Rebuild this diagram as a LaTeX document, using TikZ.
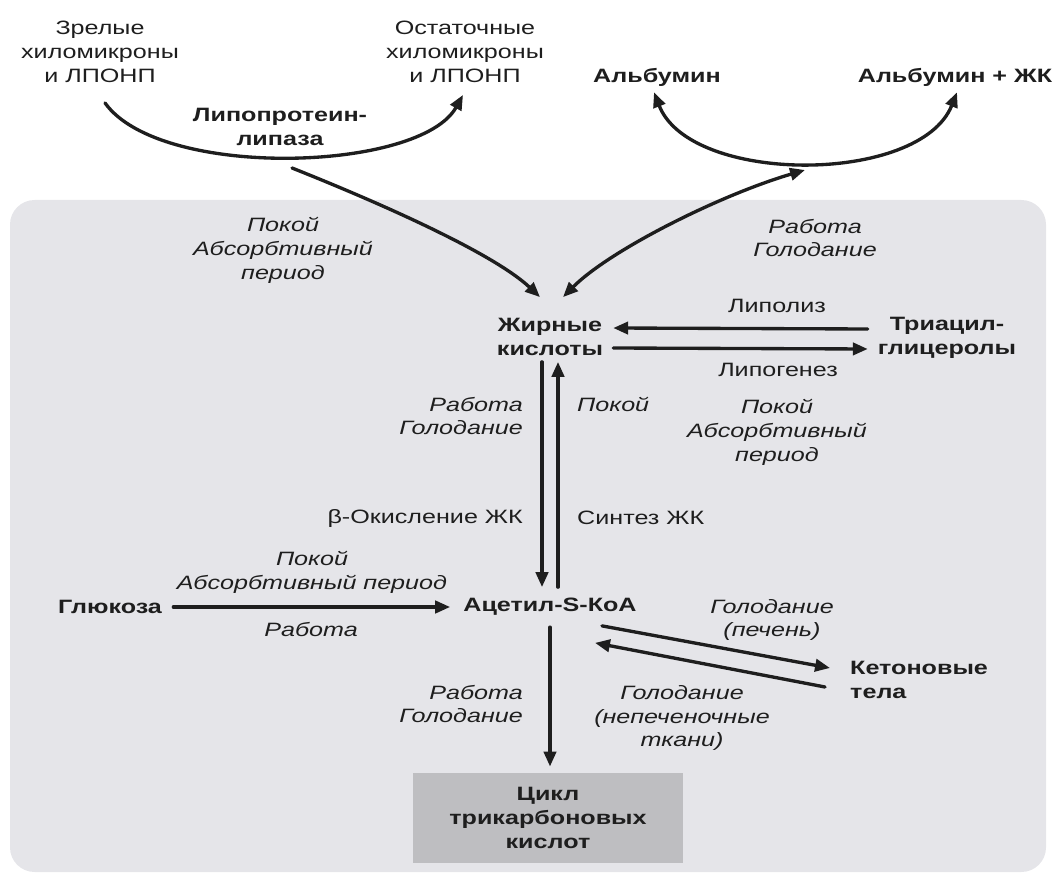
\documentclass[tikz,border=0pt]{standalone}
\usepackage{fontspec}
\setmainfont{Liberation Sans}[FakeStretch=1.3]
\usetikzlibrary{arrows.meta,calc}
\definecolor{panel}{RGB}{229,229,233}
\definecolor{tcagray}{RGB}{190,190,193}
\definecolor{ink}{RGB}{30,30,30}

\begin{document}
\begin{tikzpicture}[x=0.02cm,y=-0.02cm,line cap=round,line join=round,
  plain/.style={font=\fontsize{11}{13.6}\selectfont,text=ink,align=center},
  subst/.style={font=\fontsize{11}{13.6}\selectfont\bfseries,text=ink,align=center},
  cond/.style={font=\fontsize{11}{13.6}\selectfont\itshape,text=ink,align=center},
  arr/.style={draw=ink,line width=1.9pt,-{Triangle[length=8.5pt,width=7pt]}},
  dbl/.style={draw=ink,line width=1.9pt,{Triangle[length=8.5pt,width=7pt]}-{Triangle[length=8.5pt,width=7pt]}}]
  \useasboundingbox (0,0) rectangle (1054,874);
  \fill[panel,rounded corners=14pt] (10,200) rectangle (1046,872);
  % outside the cell
  \node[plain] (zrel) at (100,52) {Зрелые\\хиломикроны\\и ЛПОНП};
  \node[plain] (ost) at (465,52) {Остаточные\\хиломикроны\\и ЛПОНП};
  \node[subst] (lpl) at (280,127) {Липопротеин-\\липаза};
  \node[subst] (alb) at (657,77) {Альбумин};
  \node[subst] (albfa) at (955,77) {Альбумин + ЖК};
  \coordinate (lpout) at (292,168);
  \coordinate (albin) at (805,170);
  % inside the cell
  \node[subst] (fa) at (550,337) {Жирные\\кислоты};
  \node[subst] (tag) at (947,338) {Триацил-\\глицеролы};
  \node[subst] (glc) at (110,607) {Глюкоза};
  \node[subst] (acoa) at (550,607) {Ацетил-S-КоA};
  \node[subst,anchor=west,align=left] (keto) at (844,680) {Кетоновые\\тела};
  \node[subst,fill=tcagray,minimum width=5.4cm,minimum height=1.8cm] (tca) at (548,818) {Цикл\\трикарбоновых\\кислот};
  \node[cond] (restA) at (283,250) {Покой\\Абсорбтивный\\период};
  \node[cond] (workA) at (815,238) {Работа\\Голодание};
  \node[plain] (lipoliz) at (777,306) {Липолиз};
  \node[plain] (lipogen) at (778,370) {Липогенез};
  \node[cond] (restB) at (777,432) {Покой\\Абсорбтивный\\период};
  \node[cond,anchor=east,align=right] (workB) at (529,416) {Работа\\Голодание};
  \node[cond,anchor=west] (restC) at (571,404) {Покой};
  \node[plain,anchor=east] (betaox) at (529,519) {β-Окисление ЖК};
  \node[plain,anchor=west] (synth) at (571,518) {Синтез ЖК};
  \node[cond] (restD) at (312,572) {Покой\\Абсорбтивный период};
  \node[cond] (workD) at (311,630) {Работа};
  \node[cond,anchor=east,align=right] (workE) at (529,704) {Работа\\Голодание};
  \node[cond] (starvL) at (772,620) {Голодание\\(печень)};
  \node[cond] (starvT) at (682,718) {Голодание\\(непеченочные\\ткани)};
  % connectors
  \draw[arr] ($(zrel.south)+(5,14)$) .. controls (160,180) and (420,172) .. ($(ost.south)+(-2,6)$);
  \draw[dbl] ($(alb.south)+(-3,0)$) .. controls (690,185) and (920,185) .. ($(albfa.south)+(2,0)$);
  \draw[arr] (lpout) .. controls (360,195) and (490,250) .. ($(fa.north)+(-10,-15)$);
  \draw[dbl] ($(fa.north)+(13,-15)$) .. controls (610,250) and (720,195) .. (albin);
  \draw[arr] ($(tag.west)+(-4,-9)$) -- ($(fa.east)+(4,-9)$);
  \draw[arr] ($(fa.east)+(4,11)$) -- ($(tag.west)+(-4,11)$);
  \draw[arr] ($(fa.south)+(-8,0)$) -- ($(acoa.north)+(-8,-5)$);
  \draw[arr] ($(acoa.north)+(8,-5)$) -- ($(fa.south)+(8,0)$);
  \draw[arr,shorten <=3pt,shorten >=4pt] (glc) -- (acoa);
  \draw[arr,shorten <=3pt,shorten >=3.5pt] (acoa) -- (acoa |- tca.north);
  \draw[arr] ($(acoa.south)+(52,4)$) -- ($(keto.west)+(-14,-12)$);
  \draw[arr] ($(keto.west)+(-19,7)$) -- ($(acoa.south)+(45,21)$);
\end{tikzpicture}
\end{document}
